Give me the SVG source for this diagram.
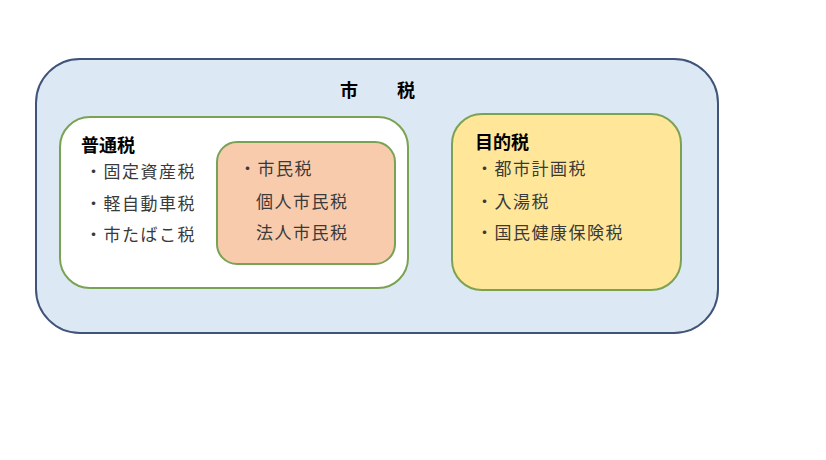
<svg xmlns="http://www.w3.org/2000/svg" width="826" height="460" viewBox="0 0 826 460">
<style>
text{font-family:"Noto Sans CJK JP","Noto Sans CJK SC",sans-serif;}
.h{font-size:18px;font-weight:bold;fill:#000;}
.t{font-size:17px;fill:#3a3a3a;letter-spacing:1.5px;}
.box{stroke:#7aa253;stroke-width:2;}
</style>
<rect width="826" height="460" fill="#ffffff"/>
<g id="shizei">
<rect x="36" y="59" width="682" height="274" rx="44" ry="44" fill="#dde8f5" stroke="#3f5478" stroke-width="2"/>
<text class="h" x="340" y="97">市</text>
<text class="h" x="397" y="97">税</text>
</g>
<g id="futsuzei">
<rect class="box" x="60" y="117" width="348" height="171" rx="30" ry="30" fill="#ffffff"/>
<text class="h" x="81" y="152">普通税</text>
<text class="t" x="85" y="178">・固定資産税</text>
<text class="t" x="85" y="210">・軽自動車税</text>
<text class="t" x="85" y="241">・市たばこ税</text>
</g>
<g id="shiminzei">
<rect class="box" x="217" y="142" width="178" height="122" rx="20" ry="20" fill="#f8cbad"/>
<text class="t" x="239" y="175">・市民税</text>
<text class="t" x="256" y="208">個人市民税</text>
<text class="t" x="256" y="239">法人市民税</text>
</g>
<g id="mokutekizei">
<rect class="box" x="452" y="114" width="229" height="176" rx="30" ry="30" fill="#ffe699"/>
<text class="h" x="475" y="149">目的税</text>
<text class="t" x="476" y="175">・都市計画税</text>
<text class="t" x="476" y="208">・入湯税</text>
<text class="t" x="476" y="239">・国民健康保険税</text>
</g>
<g id="connectors"/>
</svg>
